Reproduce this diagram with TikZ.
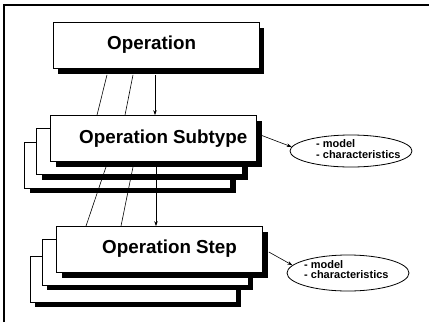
\documentclass[tikz,border=0pt]{standalone}
\usepackage{fontspec}
\setmainfont{Liberation Sans}
\usetikzlibrary{shapes.geometric,shadows,arrows.meta}
\begin{document}
\begin{tikzpicture}[x=1pt,y=-1pt,
  card/.style={draw=black, line width=0.7pt, fill=white,
    minimum width=206pt, minimum height=46pt, inner sep=0pt,
    drop shadow={shadow xshift=5pt, shadow yshift=-5pt, fill=black, opacity=1}},
  title/.style={font=\bfseries\fontsize{18.8}{22}\selectfont, anchor=base west, inner sep=0pt},
  note/.style={font=\bfseries\fontsize{11}{12}\selectfont, anchor=base west, inner sep=0pt},
  bubble/.style={ellipse, draw=black, line width=0.8pt, fill=white,
    minimum width=122pt, inner sep=0pt},
  link/.style={draw=black, line width=0.6pt},
  tip/.style={link, -{Stealth[length=5pt,width=3.5pt]}}]
\useasboundingbox (0,0) rectangle (429,322);

% frame
\draw[line width=1.4pt] (4,322) -- (4,5) -- (429,5);

% operation
\node[card] (op) at (156,45.5) {};
\node[title] (opT) at (107,49) {Operation};

% operation subtype stack
\node[card] (sub3) at (127.5,165) {};
\node[card] (sub2) at (139.5,151.5) {};
\node[card] (sub1) at (153.5,138.5) {};
\node[title] (subT) at (79,143) {Operation Subtype};

% operation step stack
\node[card] (stp3) at (133,279) {};
\node[card] (stp2) at (145,262) {};
\node[card] (stp1) at (159.5,249.5) {};
\node[title] (stpT) at (102,253) {Operation Step};

% attribute bubbles
\node[bubble, minimum height=32pt] (e1) at (351,151) {};
\node[note] (e1a) at (316,147) {- model};
\node[note] (e1b) at (316,158) {- characteristics};
\node[bubble, minimum height=36pt] (e2) at (348,273) {};
\node[note] (e2a) at (304,268) {- model};
\node[note] (e2b) at (304,278.5) {- characteristics};

% operation -> subtype
\draw[link] ([shift={(-49,6)}]op.south) -- ([shift={(-56.5,0)}]sub1.north);
\draw[link] ([shift={(-23,6)}]op.south) -- ([shift={(-28.5,0)}]sub1.north);
\draw[tip] ([shift={(-1,6)}]op.south) -- ([shift={(1.5,0)}]sub1.north);

% subtype -> step
\draw[link] ([shift={(-47.5,5)}]sub1.south) -- ([shift={(-73.5,0)}]stp1.north);
\draw[link] ([shift={(-20.5,5)}]sub1.south) -- ([shift={(-38.5,0)}]stp1.north);
\draw[tip] ([shift={(2.5,5)}]sub1.south) -- ([shift={(-3.5,0)}]stp1.north);

% boxes -> bubbles
\draw[tip] ([shift={(5,-3)}]sub1.east) -- (e1.176);
\draw[tip] ([shift={(6,2.5)}]stp1.east) -- (e2.172);
\end{tikzpicture}
\end{document}
